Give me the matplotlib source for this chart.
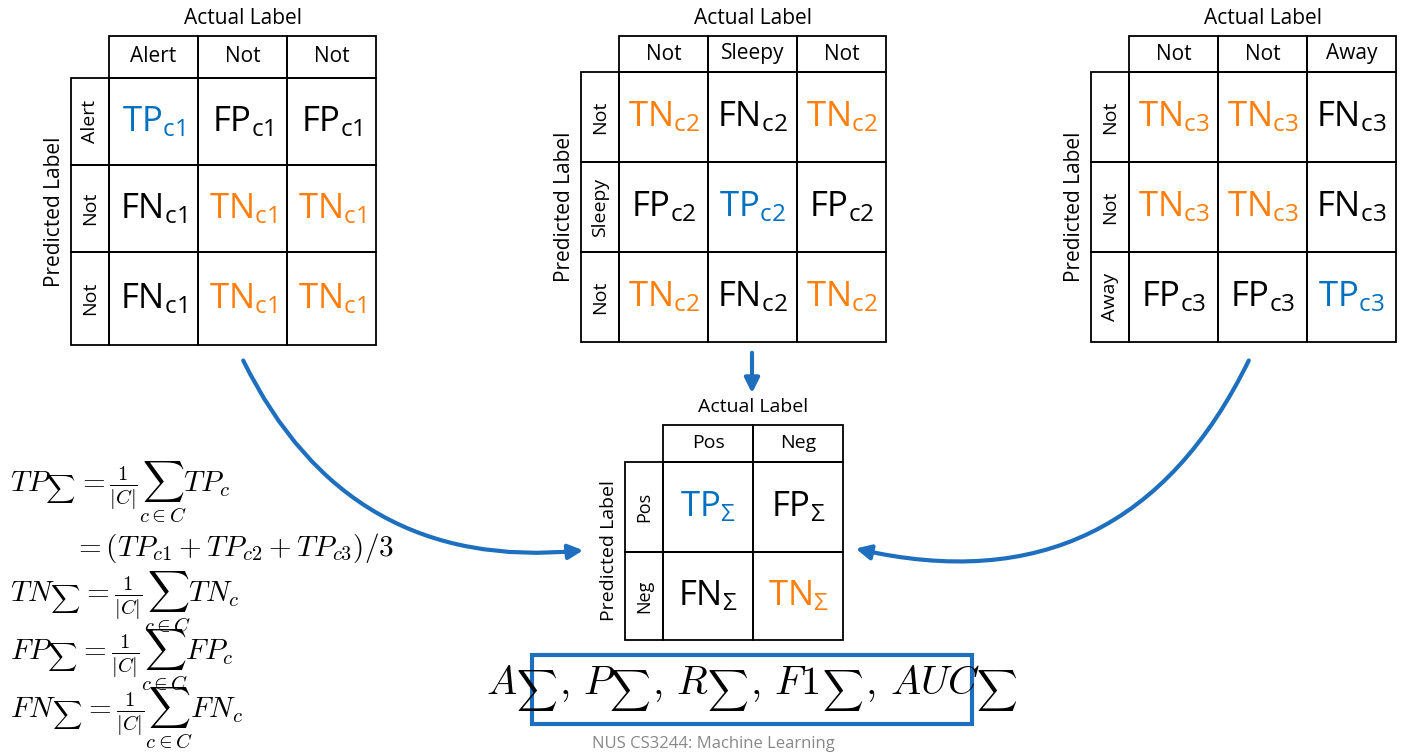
import matplotlib.pyplot as plt
from matplotlib.patches import FancyArrowPatch, Rectangle

plt.rcParams['mathtext.fontset'] = 'custom'
plt.rcParams['mathtext.rm'] = 'Open Sans'
plt.rcParams['mathtext.it'] = 'Open Sans'
plt.rcParams['font.family'] = 'Open Sans'

BLUE = '#0070C0'
ORANGE = '#FF7F0E'
ARROW = '#1F6FBF'

# matrices: header labels, row labels, cell text
m1_cols = ["Alert", "Not", "Not"]
m1_rows = ["Alert", "Not", "Not"]
m1_cells = [["TP", "FP", "FP"], ["FN", "TN", "TN"], ["FN", "TN", "TN"]]
m2_cols = ["Not", "Sleepy", "Not"]
m2_rows = ["Not", "Sleepy", "Not"]
m2_cells = [["TN", "FN", "TN"], ["FP", "TP", "FP"], ["TN", "FN", "TN"]]
m3_cols = ["Not", "Not", "Away"]
m3_rows = ["Not", "Not", "Away"]
m3_cells = [["TN", "TN", "FN"], ["TN", "TN", "FN"], ["FP", "FP", "TP"]]
ms_cols = ["Pos", "Neg"]
ms_rows = ["Pos", "Neg"]
ms_cells = [["TP", "FP"], ["FN", "TN"]]

fig = plt.figure(figsize=(14.04, 7.54), dpi=100)
ax = fig.add_axes([0, 0, 1, 1])
ax.set_xlim(0, 1404)
ax.set_ylim(754, 0)
ax.axis('off')


def color_of(c):
    return {"TP": BLUE, "TN": ORANGE}.get(c, 'black')


def matrix(xs, ys, cols, rows, cells, sub, lab_w=38, hfs=15, cfs=25):
    top = ys[0]
    # header boxes
    for i, c in enumerate(cols):
        ax.add_patch(Rectangle((xs[i], top), xs[i+1]-xs[i], ys[1]-top, fill=False, lw=1.3, ec='black'))
        ax.text((xs[i]+xs[i+1])/2, (top+ys[1])/2, c, ha='center', va='center', fontsize=hfs)
    for j, r in enumerate(rows):
        y0, y1 = ys[j+1], ys[j+2]
        ax.add_patch(Rectangle((xs[0]-lab_w, y0), lab_w, y1-y0, fill=False, lw=1.3, ec='black'))
        ax.text(xs[0]-lab_w/2, (y0+y1)/2, r, ha='center', va='center', rotation=90, fontsize=hfs-1)
        for i in range(len(cols)):
            ax.add_patch(Rectangle((xs[i], y0), xs[i+1]-xs[i], y1-y0, fill=False, lw=1.3, ec='black'))
            c = cells[j][i]
            ax.text((xs[i]+xs[i+1])/2, (y0+y1)/2, r'$\mathrm{%s}_{\mathrm{%s}}$' % (c, sub),
                    ha='center', va='center', fontsize=cfs, color=color_of(c))
    ax.text((xs[0]+xs[-1])/2, top-18, "Actual Label", ha='center', va='center', fontsize=hfs)
    ax.text(xs[0]-lab_w-16, (ys[1]+ys[-1])/2, "Predicted Label", ha='center', va='center',
            rotation=90, fontsize=hfs)


matrix([109, 198, 287, 376], [36, 78, 165, 252, 345], m1_cols, m1_rows, m1_cells, "c1")
matrix([619, 708, 797, 886], [36, 72, 162, 252, 342], m2_cols, m2_rows, m2_cells, "c2")
matrix([1129, 1218, 1307, 1396], [36, 72, 162, 252, 342], m3_cols, m3_rows, m3_cells, "c3")
matrix([663, 753, 843], [425, 462, 552, 640], ms_cols, ms_rows, ms_cells, r"\Sigma", hfs=14)

# arrows
kw = dict(arrowstyle='-|>', mutation_scale=22, lw=3, color=ARROW)
ax.add_patch(FancyArrowPatch((242, 358), (586, 550), connectionstyle='arc3,rad=0.35', **kw))
ax.add_patch(FancyArrowPatch((1250, 358), (853, 548), connectionstyle='arc3,rad=-0.4', **kw))
ax.add_patch(FancyArrowPatch((752, 350), (752, 396), **kw))

# formulas
formulas = [
    (492, r'$TP_{\sum} = \frac{1}{|C|}\sum_{c\in C}TP_c$', 10),
    (548, r'$= (TP_{c1} + TP_{c2} + TP_{c3})/3$', 73),
    (602, r'$TN_{\sum} = \frac{1}{|C|}\sum_{c\in C}TN_c$', 10),
    (660, r'$FP_{\sum} = \frac{1}{|C|}\sum_{c\in C}FP_c$', 10),
    (718, r'$FN_{\sum} = \frac{1}{|C|}\sum_{c\in C}FN_c$', 10),
]
for y, f, x in formulas:
    ax.text(x, y, f, ha='left', va='center', fontsize=21, math_fontfamily='cm')

ax.add_patch(Rectangle((532, 655), 440, 69, fill=False, lw=3, ec=ARROW))
ax.text(752, 690, r'$A_{\sum},\,P_{\sum},\,R_{\sum},\,F1_{\sum},\,AUC_{\sum}$',
        ha='center', va='center', fontsize=29, math_fontfamily='cm')
ax.text(713, 744, "NUS CS3244: Machine Learning", ha='center', va='center', fontsize=12, color='#888888')

fig.savefig('out.png', dpi=100)
